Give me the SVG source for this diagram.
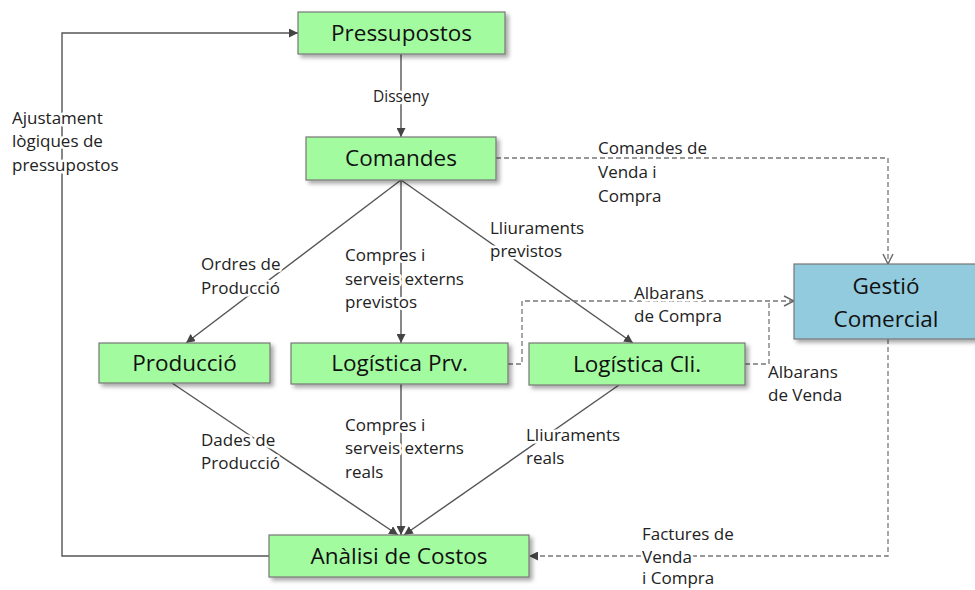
<svg xmlns="http://www.w3.org/2000/svg" width="975" height="590" viewBox="0 0 975 590">
<defs>
<filter id="sh" x="-10%" y="-10%" width="130%" height="140%">
<feDropShadow dx="3" dy="3" stdDeviation="2" flood-color="#000" flood-opacity="0.35"/>
</filter>
<marker id="ar" viewBox="0 0 10 10" refX="10" refY="5" markerWidth="9" markerHeight="9" markerUnits="userSpaceOnUse" orient="auto">
<path d="M0,0 L10,5 L0,10 z" fill="#444"/>
</marker>
<marker id="op" viewBox="0 0 12 12" refX="11" refY="6" markerWidth="12" markerHeight="12" markerUnits="userSpaceOnUse" orient="auto">
<path d="M1,1 L11,6 L1,11" fill="none" stroke="#666" stroke-width="1.4"/>
</marker>
</defs>
<style>
.bx{fill:#a3fb9f;stroke:#777;stroke-width:1.2;filter:url(#sh)}
.bb{fill:#92cbdd;stroke:#777;stroke-width:1.2;filter:url(#sh)}
.bt{font-family:"Open Sans","Noto Sans",sans-serif;font-size:22.5px;fill:#111;text-anchor:middle}
.ln{fill:none;stroke:#555;stroke-width:1.4}
.ds{fill:none;stroke:#777;stroke-width:1.3;stroke-dasharray:5,3}
.lb{font-family:"Open Sans","Noto Sans",sans-serif;font-size:17px;fill:#222;stroke:#fff;stroke-width:5;stroke-linejoin:round;paint-order:stroke}
</style>
<rect width="975" height="590" fill="#fff"/>
<g id="connectors">
<path class="ln" d="M269,556 H62 V33 H298" marker-end="url(#ar)"/>
<path class="ln" d="M401,54 V137" marker-end="url(#ar)"/>
<path class="ln" d="M401,180 L186,343" marker-end="url(#ar)"/>
<path class="ln" d="M401,180 V343" marker-end="url(#ar)"/>
<path class="ln" d="M401,180 L633,343" marker-end="url(#ar)"/>
<path class="ds" d="M496,158 H888 V264" marker-end="url(#op)"/>
<path class="ds" d="M508,364 H522 V301 H794" marker-end="url(#op)"/>
<path class="ds" d="M745,364 H769 V301"/>
<path class="ds" d="M888,339 V556 H529" marker-end="url(#ar)"/>
<path class="ln" d="M172,383 L398,535" marker-end="url(#ar)"/>
<path class="ln" d="M401,384 V535" marker-end="url(#ar)"/>
<path class="ln" d="M619,385 L404,535" marker-end="url(#ar)"/>
<text class="lb" x="12" y="124">Ajustament</text>
<text class="lb" x="12" y="147">lògiques  de</text>
<text class="lb" x="12" y="171">pressupostos</text>
<text class="lb" x="401" y="102" text-anchor="middle" style="font-size:15.5px">Disseny</text>
<text class="lb" x="201" y="270">Ordres de</text>
<text class="lb" x="201" y="294">Producció</text>
<text class="lb" x="345" y="261">Compres i</text>
<text class="lb" x="345" y="285">serveis externs</text>
<text class="lb" x="345" y="308">previstos</text>
<text class="lb" x="490" y="234">Lliuraments</text>
<text class="lb" x="490" y="257">previstos</text>
<text class="lb" x="598" y="154">Comandes de</text>
<text class="lb" x="598" y="178">Venda i</text>
<text class="lb" x="598" y="202">Compra</text>
<text class="lb" x="634" y="299">Albarans</text>
<text class="lb" x="634" y="322">de Compra</text>
<text class="lb" x="768" y="378">Albarans</text>
<text class="lb" x="768" y="401">de  Venda</text>
<text class="lb" x="201" y="446">Dades de</text>
<text class="lb" x="201" y="469">Producció</text>
<text class="lb" x="345" y="431">Compres i</text>
<text class="lb" x="345" y="454">serveis externs</text>
<text class="lb" x="345" y="478">reals</text>
<text class="lb" x="526" y="441">Lliuraments</text>
<text class="lb" x="526" y="464">reals</text>
<text class="lb" x="642" y="540">Factures de</text>
<text class="lb" x="642" y="563">Venda</text>
<text class="lb" x="642" y="584">i Compra</text>
</g>
<g id="pressupostos"><rect class="bx" x="298" y="12" width="207" height="42"/><text class="bt" x="401.5" y="41">Pressupostos</text></g>
<g id="comandes"><rect class="bx" x="306" y="137" width="190" height="43"/><text class="bt" x="401" y="166">Comandes</text></g>
<g id="produccio"><rect class="bx" x="99" y="343" width="171" height="40"/><text class="bt" x="184.5" y="371">Producció</text></g>
<g id="logistica-prv"><rect class="bx" x="291" y="343" width="217" height="41"/><text class="bt" x="399.5" y="371">Logística Prv.</text></g>
<g id="logistica-cli"><rect class="bx" x="529" y="343" width="216" height="42"/><text class="bt" x="637" y="372">Logística Cli.</text></g>
<g id="gestio-comercial"><rect class="bb" x="794" y="264" width="183" height="75"/><text class="bt" x="886" y="294">Gestió</text><text class="bt" x="886" y="327">Comercial</text></g>
<g id="analisi-costos"><rect class="bx" x="269" y="535" width="260" height="42"/><text class="bt" x="399" y="564">Anàlisi de Costos</text></g>
</svg>
